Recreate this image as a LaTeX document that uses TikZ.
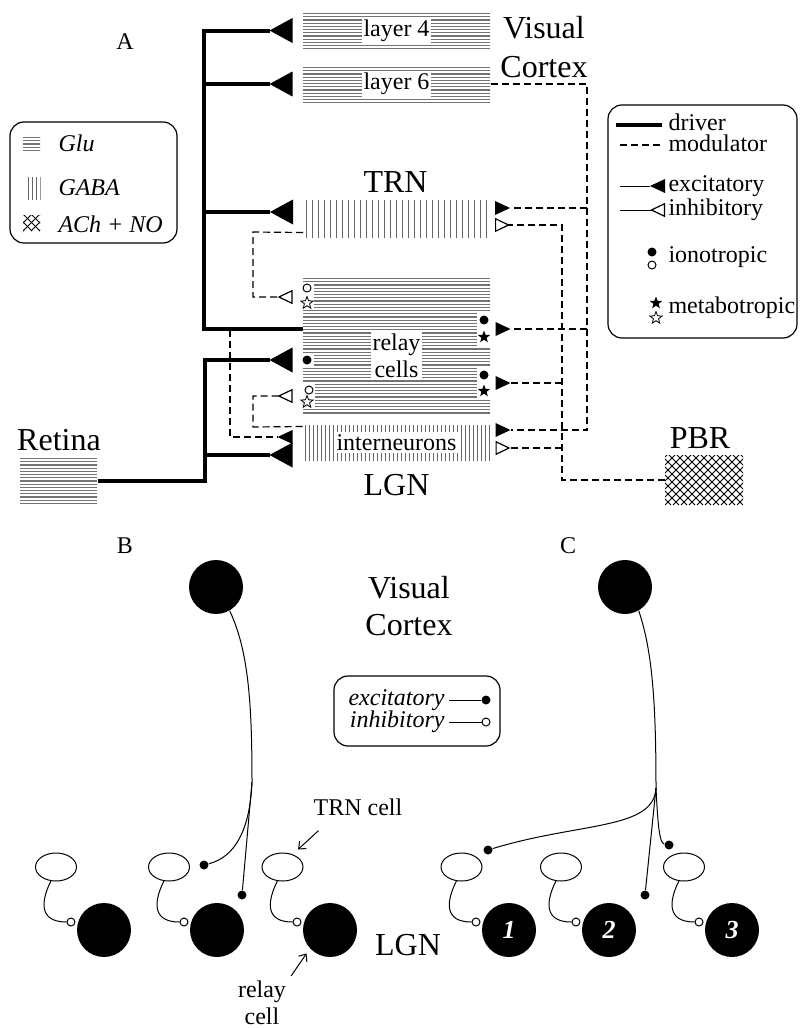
\documentclass[tikz,border=0pt]{standalone}
\usepackage{fontspec}
\setmainfont{Liberation Serif}
\usetikzlibrary{arrows.meta,shapes.geometric,calc}

\tikzset{
  big/.style={font=\fontsize{16}{18}\selectfont},
  txt/.style={font=\fontsize{12}{13.5}\selectfont},
  itx/.style={font=\fontsize{12}{13.5}\selectfont\itshape},
  tag/.style={txt, fill=white, inner sep=1pt},
  glu/.style={inner sep=0pt, path picture={
    \foreach \k in {1,...,46}
      \draw[black!55, line width=0.55pt] ([yshift={0.8pt-\k*1.6pt}]path picture bounding box.north west) -- ++(100pt,0);}},
  gaba/.style={inner sep=0pt, path picture={
    \foreach \k in {0,...,48}
      \draw[black!60, line width=0.5pt] ([xshift={(\k+0.5)*#1}]path picture bounding box.north west) -- ++(0,-40pt);}},
  gaba/.default=3pt,
  ach/.style={inner sep=0pt, path picture={
    \foreach \k in {-12,...,12} {
      \draw[line width=0.5pt] ([xshift={\k*4pt}]path picture bounding box.south west) -- ++(30pt,30pt);
      \draw[line width=0.5pt] ([xshift={\k*4pt}]path picture bounding box.south east) -- ++(-30pt,30pt);}}},
  drv/.style={line width=2pt},
  mod/.style={line width=0.6pt, dash pattern=on 3.5pt off 2pt},
  bigexc/.style={-{Triangle[reversed,length=11.5pt,width=12.5pt,line width=0pt]}},
  exc/.style={-{Triangle[reversed,length=7.5pt,width=7pt,line width=0pt]}},
  inh/.style={-{Triangle[reversed,open,length=7.5pt,width=7pt,line width=0.6pt]}},
  dot/.style={circle, fill=black, inner sep=0pt, minimum size=4.5pt},
  odot/.style={circle, draw, fill=white, line width=0.5pt, inner sep=0pt, minimum size=4pt},
  met/.style={star, star points=5, star point ratio=2.4, fill=black, inner sep=0pt, minimum size=6.5pt},
  metopen/.style={met, draw, fill=white, line width=0.4pt},
  trn/.style={ellipse, draw, line width=0.5pt, inner sep=0pt, minimum width=20.5pt, minimum height=14pt},
  cell/.style={circle, fill=black, inner sep=0pt, minimum size=27pt},
  num/.style={text=white, font=\fontsize{13}{14}\selectfont\bfseries\itshape},
  key/.style={draw, rounded corners=7pt, line width=0.6pt},
  lbl/.style={anchor=west, inner sep=0pt},
  pointer/.style={-{Straight Barb[length=3pt,width=5pt]}, line width=0.5pt},
}

\begin{document}
\begin{tikzpicture}[x=0.5pt,y=-0.5pt,line width=0.5pt]
  \useasboundingbox (0,0) rectangle (799,1028);

  % Panel A: cell layers
  \node[glu, minimum width=93.5pt, minimum height=18.5pt] (L4) at (396.5,30.5) {};
  \node[tag] (L4t) at (L4) {layer 4};
  \node[glu, minimum width=93.5pt, minimum height=18pt] (L6) at (396.5,84) {};
  \node[tag] (L6t) at (L6) {layer 6};
  \node[gaba, minimum width=92pt, minimum height=18.5pt] (TRN) at (395.5,218.5) {};
  \node[glu, minimum width=93.5pt, minimum height=69pt] (REL) at (396.5,346) {};
  \node[tag, align=center] (RELt) at (396.5,356) {relay\\cells};
  \node[gaba=2pt, minimum width=93.5pt, minimum height=17.5pt] (INT) at (396.5,442.5) {};
  \node[tag] (INTt) at (INT) {interneurons};
  \node[glu, minimum width=38.5pt, minimum height=24pt] (RET) at (58.5,481) {};
  \node[ach, minimum width=39pt, minimum height=25pt] (PBR) at (704,480) {};

  % Panel A: region names
  \node[txt] (pA) at (125,42) {A};
  \node[big] (vis) at (544,28) {Visual};
  \node[big] (ctx) at (544,67) {Cortex};
  \node[big] (trnl) at (395.5,182) {TRN};
  \node[big] (lgnl) at (396.5,485) {LGN};
  \node[big] (retl) at (59,440) {Retina};
  \node[big] (pbrl) at (700,438) {PBR};

  % Driver inputs
  \coordinate (ax) at (204,329);
  \coordinate (j6) at (204,84);
  \coordinate (jT) at (204,212);
  \coordinate (rj) at (205,481);
  \coordinate (jI) at (205,455);
  \draw[drv, bigexc] (ax -| REL.west) -- (ax) |- ($(L4.west)+(-10,0)$);
  \draw[drv, bigexc] (j6) -- ($(L6.west)+(-10,0)$);
  \draw[drv, bigexc] (jT) -- ($(TRN.west)+(-10,-6.5)$);
  \draw[drv, bigexc] (RET.east) -- (rj) |- ($(REL.west)+(-10,14)$);
  \draw[drv, bigexc] (jI) -- ($(INT.west)+(-10,12.5)$);

  % Modulator inputs from layer 6
  \coordinate (m6) at (587,430);
  \coordinate (mT) at (587,208);
  \coordinate (mR) at (587,329);
  \draw[mod, exc] (L6.east) -| (m6) -- ($(INT.east)+(5,-12.5)$);
  \draw[mod, exc] (mT) -- ($(TRN.east)+(7,-10.5)$);
  \draw[mod, exc] (mR) -- ($(REL.east)+(5,-17)$);

  % Modulator inputs from PBR
  \coordinate (p1) at (562,480);
  \coordinate (p2) at (562,225);
  \coordinate (pR) at (562,383);
  \coordinate (pI) at (562,448);
  \draw[mod, inh] (PBR.west) -- (p1) -- (p2) -- ($(TRN.east)+(7,6.5)$);
  \draw[mod, exc] (pR) -- ($(REL.east)+(5,37)$);
  \draw[mod, inh] (pI) -- ($(INT.east)+(5,5.5)$);

  % Local loops
  \coordinate (t1) at (253,232);
  \coordinate (t2) at (253,297);
  \coordinate (i1) at (253,427);
  \coordinate (i2) at (253,396);
  \coordinate (c1) at (230,330);
  \coordinate (c2) at (230,437);
  \draw[mod, inh] ($(TRN.south west)+(0,-5)$) -- (t1) -- (t2) -- ($(REL.west)+(-10,-49)$);
  \draw[mod, inh] ($(INT.north west)+(0,2)$) -- (i1) -- (i2) -- ($(REL.west)+(-10,50)$);
  \draw[mod, exc] (c1) -- (c2) -- ($(INT.west)+(-10,-5.5)$);

  % Receptors
  \fill[white] (300,282) rectangle (314,310);
  \fill[white] (300,353) rectangle (314,367);
  \fill[white] (300,384) rectangle (315,408);
  \fill[white] (477,312) rectangle (491,346);
  \fill[white] (477,367) rectangle (491,399);
  \node[odot] (rc1) at (307,288) {};
  \node[metopen] (rc2) at (307,303) {};
  \node[dot] (rc3) at (307,360) {};
  \node[odot] (rc4) at (309,390) {};
  \node[metopen] (rc5) at (307,402) {};
  \node[dot] (rc6) at (484,320) {};
  \node[met] (rc7) at (484,337) {};
  \node[dot] (rc8) at (484,375) {};
  \node[met] (rc9) at (484,391) {};

  % Legend: transmitters
  \node[key, minimum width=83.5pt, minimum height=60.5pt] (key1) at (93.5,182.5) {};
  \node[glu, minimum width=8.5pt, minimum height=7pt] (kg) at (31.5,143) {};
  \node[gaba=2pt, minimum width=7pt, minimum height=11.5pt] (kb) at (33.5,188) {};
  \node[ach, minimum width=8.5pt, minimum height=8pt] (ka) at (31.5,223) {};
  \node[itx, lbl] (kgt) at (58,143) {Glu};
  \node[itx, lbl] (kbt) at (58,188) {GABA};
  \node[itx, lbl] (kat) at (58,224) {ACh + NO};

  % Legend: connections
  \node[key, minimum width=94.5pt, minimum height=116.5pt] (key2) at (702.5,221.5) {};
  \coordinate (d1) at (616,125);
  \coordinate (d2) at (662,125);
  \coordinate (d3) at (620,145);
  \coordinate (d4) at (662,145);
  \coordinate (d5) at (620,186);
  \coordinate (d6) at (665,186);
  \coordinate (d7) at (620,210);
  \coordinate (d8) at (665,210);
  \draw[drv] (d1) -- (d2);
  \draw[mod] (d3) -- (d4);
  \draw[exc] (d5) -- (d6);
  \draw[inh] (d7) -- (d8);
  \node[dot] (kd1) at (652,252) {};
  \node[odot] (kd2) at (652,265) {};
  \node[met] (kd3) at (656,303) {};
  \node[metopen] (kd4) at (656,318) {};
  \node[txt, lbl] (kt1) at (668,122) {driver};
  \node[txt, lbl] (kt2) at (668,143) {modulator};
  \node[txt, lbl] (kt3) at (668,186) {excitatory};
  \node[txt, lbl] (kt4) at (668,210) {inhibitory};
  \node[txt, lbl] (kt5) at (668,257) {ionotropic};
  \node[txt, lbl] (kt6) at (668,308) {metabotropic};

  % Panel B and C: cortex
  \node[txt] (pB) at (125,546) {B};
  \node[txt] (pC) at (568,546) {C};
  \node[cell] (cB) at (216,587) {};
  \node[cell] (cC) at (625,587) {};
  \node[big] (vis2) at (409,588) {Visual};
  \node[big] (ctx2) at (409,625) {Cortex};
  \node[big] (lgn2) at (408,945) {LGN};

  % Legend: synapses
  \node[key, minimum width=83pt, minimum height=35pt] (key3) at (417,711) {};
  \node[itx, anchor=east, inner sep=0pt] (ke) at (445,700) {excitatory};
  \node[itx, anchor=east, inner sep=0pt] (ki) at (445,722) {inhibitory};
  \node[dot] (ks1) at (486,700) {};
  \node[odot] (ks2) at (486,722) {};
  \draw ([xshift=2pt]ke.east) -- (ks1);
  \draw ([xshift=2pt]ki.east) -- (ks2);

  % Panel B: TRN and relay cells
  \node[trn] (tB1) at (56,867) {};
  \node[trn] (tB2) at (169,867) {};
  \node[trn] (tB3) at (282.5,867) {};
  \node[cell] (rB1) at (104,930) {};
  \node[cell] (rB2) at (217,930) {};
  \node[cell] (rB3) at (330,930) {};
  \node[odot] (oB1) at (71,922) {};
  \node[odot] (oB2) at (184,922) {};
  \node[odot] (oB3) at (297,922) {};
  \draw (tB1.250) .. controls +(-10,20) and +(-28,0) .. (oB1.west);
  \draw (tB2.250) .. controls +(-10,20) and +(-28,0) .. (oB2.west);
  \draw (tB3.250) .. controls +(-10,20) and +(-28,0) .. (oB3.west);

  % Panel B: cortical axon
  \coordinate (bB) at (252,782);
  \node[dot] (eB1) at (204,865) {};
  \node[dot] (eB2) at (242,895) {};
  \draw (cB.-60) .. controls (248,650) and (252,700) .. (bB);
  \draw (bB) .. controls (250,830) and (235,857) .. (eB1);
  \draw (bB) -- (eB2);

  % Panel B: pointers
  \node[txt] (lt) at (358,807) {TRN cell};
  \node[txt, align=center] (lr) at (262,1003) {relay\\cell};
  \draw[pointer] ([shift={(12,8)}]lt.south west) -- ([shift={(5,-5)}]tB3.50);
  \draw[pointer] ([shift={(-2,2)}]lr.north east) -- ([shift={(-4,4)}]rB3.225);

  % Panel C: TRN and relay cells
  \node[trn] (tC1) at (461.5,867) {};
  \node[trn] (tC2) at (561,867) {};
  \node[trn] (tC3) at (684,867) {};
  \node[cell, num] (rC1) at (509,930) {1};
  \node[cell, num] (rC2) at (609,930) {2};
  \node[cell, num] (rC3) at (732,930) {3};
  \node[odot] (oC1) at (476,922) {};
  \node[odot] (oC2) at (576,922) {};
  \node[odot] (oC3) at (699,922) {};
  \draw (tC1.250) .. controls +(-10,20) and +(-28,0) .. (oC1.west);
  \draw (tC2.250) .. controls +(-10,20) and +(-28,0) .. (oC2.west);
  \draw (tC3.250) .. controls +(-10,20) and +(-28,0) .. (oC3.west);

  % Panel C: cortical axon
  \coordinate (bC) at (656,788);
  \node[dot] (eC1) at (488,850) {};
  \node[dot] (eC2) at (645,895) {};
  \node[dot] (eC3) at (669,845) {};
  \draw (cC.-60) .. controls (652,650) and (656,700) .. (bC);
  \draw (bC) .. controls (654,830) and (580,822) .. (eC1);
  \draw (bC) -- (eC2);
  \draw (bC) .. controls (658,830) and (660,843) .. (eC3);
\end{tikzpicture}
\end{document}
